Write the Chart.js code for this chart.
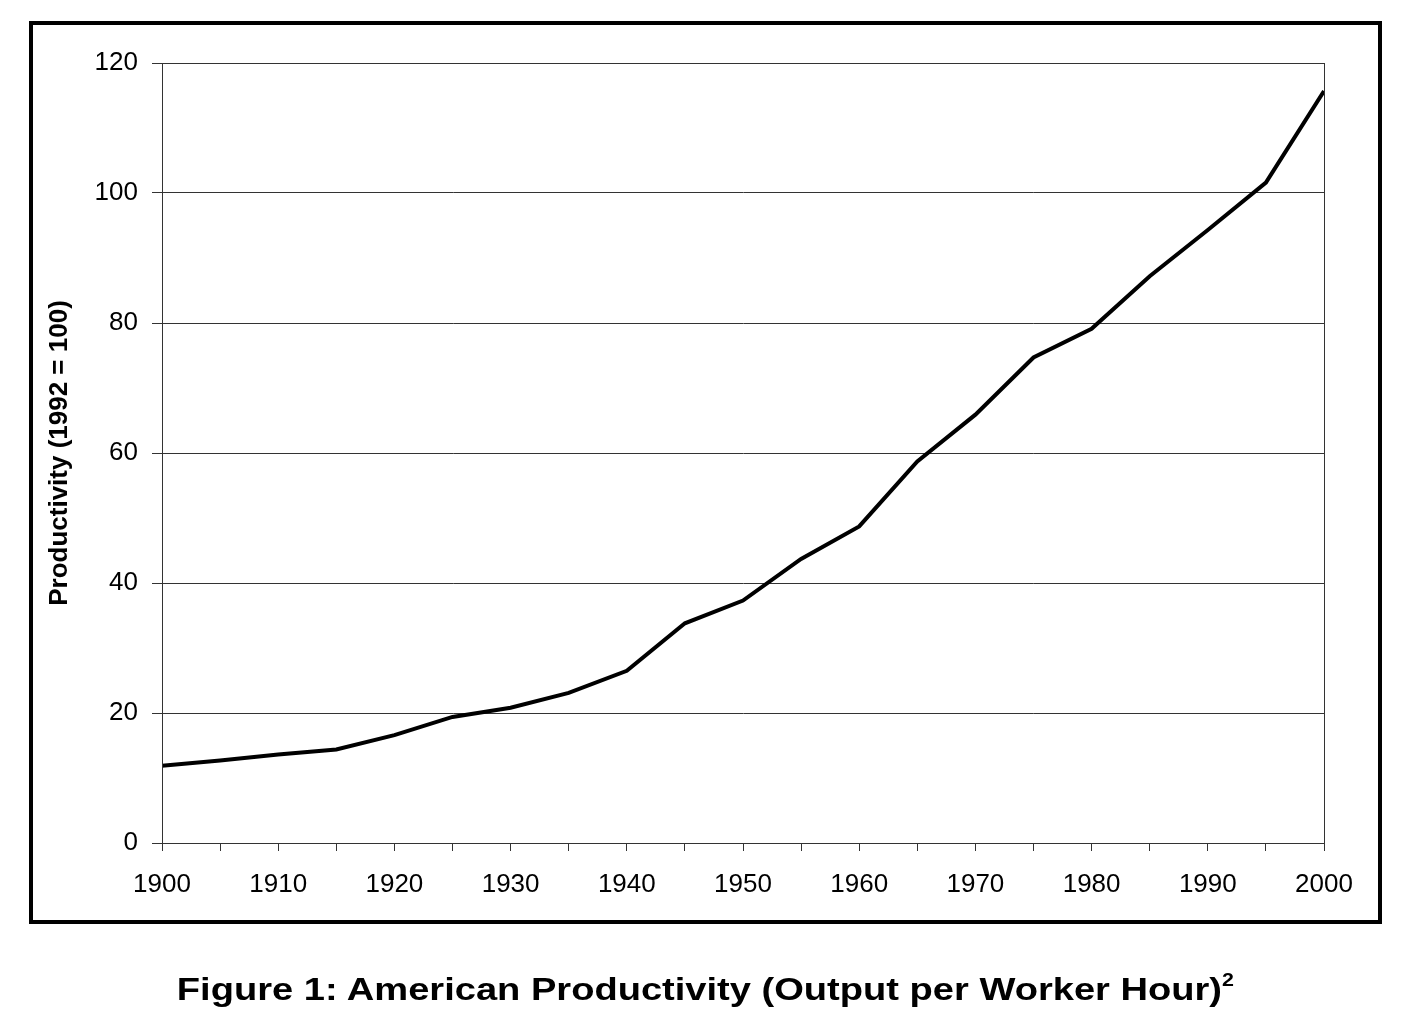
<!DOCTYPE html>
<html>
<head>
<meta charset="utf-8">
<script src="https://cdn.jsdelivr.net/npm/chart.js@4.4.1/dist/chart.umd.min.js"></script>
<style>
  html, body { margin: 0; padding: 0; background: #fff; }
  body { width: 1410px; height: 1027px; position: relative; overflow: hidden; font-family: "Liberation Sans", Arial, sans-serif; }
  #frame { position: absolute; left: 29px; top: 21px; width: 1353px; height: 903px; border: 4px solid #000; box-sizing: border-box; }
  #chart { position: absolute; left: 0; top: 0; }
  #caption { position: absolute; left: 0; width: 1410px; top: 971px; text-align: center; font-weight: bold; font-size: 32px; color: #000;
             transform: scaleX(1.19); transform-origin: 703px 0; }
  #caption sup { font-size: 18px; vertical-align: 14px; line-height: 0; }
</style>
</head>
<body>
<div id="frame"></div>
<canvas id="chart" width="1410" height="1027"></canvas>
<div id="caption">Figure 1: American Productivity (Output per Worker Hour)<sup>2</sup></div>
<script>
const years = [1900, 1905, 1910, 1915, 1920, 1925, 1930, 1935, 1940, 1945, 1950,
               1955, 1960, 1965, 1970, 1975, 1980, 1985, 1990, 1995, 2000];
const productivity = [11.9, 12.7, 13.6, 14.4, 16.6, 19.4, 20.8, 23.1, 26.5, 33.8, 37.3,
                      43.7, 48.7, 58.7, 65.9, 74.7, 79.1, 87.2, 94.3, 101.6, 115.7];
const xTickYears = [1900, 1905, 1910, 1915, 1920, 1925, 1930, 1935, 1940, 1945, 1950,
                    1955, 1960, 1965, 1970, 1975, 1980, 1985, 1990, 1995, 2000];
const xLabelYears = [1900, 1910, 1920, 1930, 1940, 1950, 1960, 1970, 1980, 1990, 2000];
const yTickValues = [0, 20, 40, 60, 80, 100, 120];
const yTitle = "Productivity (1992 = 100)";

const FONT = "'Liberation Sans', Arial, sans-serif";

// box around the plot area
const plotBox = {
  id: "plotBox",
  afterDatasetsDraw(chart) {
    const a = chart.chartArea;
    const ctx = chart.ctx;
    ctx.save();
    ctx.strokeStyle = "#333";
    ctx.lineWidth = 1;
    ctx.strokeRect(a.left + 0.5, a.top + 0.5, a.right - a.left, a.bottom - a.top);
    ctx.restore();
  }
};

new Chart(document.getElementById("chart").getContext("2d"), {
  type: "line",
  data: {
    datasets: [{
      data: years.map((y, i) => ({ x: y, y: productivity[i] })),
      borderColor: "#000",
      borderWidth: 4,
      pointRadius: 0,
      tension: 0,
      fill: false
    }]
  },
  options: {
    responsive: false,
    animation: false,
    devicePixelRatio: 1,
    layout: { padding: { left: 40, right: 86, top: 63, bottom: 104 } },
    plugins: { legend: { display: false }, tooltip: { enabled: false } },
    scales: {
      x: {
        type: "linear",
        min: 1900,
        max: 2000,
        afterBuildTicks: s => { s.ticks = xTickYears.map(v => ({ value: v })); },
        afterFit: s => { s.height = 80; },
        grid: { drawOnChartArea: false, drawTicks: true, tickLength: 8, color: "#333", lineWidth: 1 },
        border: { color: "#333", width: 1 },
        ticks: {
          color: "#000",
          font: { family: FONT, size: 26 },
          padding: 18,
          maxRotation: 0,
          autoSkip: false,
          callback: v => xLabelYears.includes(v) ? String(v) : ""
        }
      },
      y: {
        min: 0,
        max: 120,
        afterBuildTicks: s => { s.ticks = yTickValues.map(v => ({ value: v })); },
        afterFit: s => { s.width = 122; },
        grid: { color: "#333", lineWidth: 1, tickLength: 10 },
        border: { color: "#333", width: 1 },
        ticks: {
          color: "#000",
          font: { family: FONT, size: 26 },
          padding: 14
        },
        title: {
          display: true,
          text: yTitle,
          color: "#000",
          font: { family: FONT, size: 26, weight: "bold" },
          padding: { top: 4, bottom: 4 }
        }
      }
    }
  },
  plugins: [plotBox]
});
</script>
</body>
</html>
